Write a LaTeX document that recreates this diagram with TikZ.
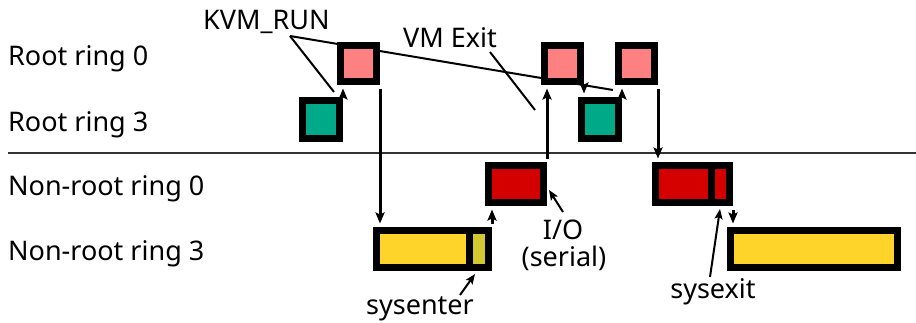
\documentclass[tikz,border=0pt]{standalone}
\usepackage{fontspec}
\setmainfont{Noto Sans}
\usetikzlibrary{arrows.meta}
\definecolor{pinkc}{HTML}{FF8080}
\definecolor{greenc}{HTML}{00AA88}
\definecolor{redc}{HTML}{D40000}
\definecolor{yellowc}{HTML}{FFD42A}
\definecolor{olivec}{HTML}{D4C832}
\definecolor{sepc}{HTML}{333333}
\begin{document}
\begin{tikzpicture}[x=1pt,y=-1pt,
  box/.style={draw=black,line width=7pt,inner sep=0pt,minimum height=37pt},
  lbl/.style={inner sep=0pt,font=\fontsize{27}{31}\selectfont},
  flow/.style={line width=3pt,-{Stealth[length=11pt,width=9pt,inset=2pt]},shorten >=3.5pt,shorten <=3.5pt},
  note/.style={line width=2pt},
  notearr/.style={line width=2pt,-{Stealth[length=10pt,width=8pt,inset=2pt]}}]
\useasboundingbox (0,0) rectangle (916,322);
% row labels
\node[lbl,anchor=base west] (r0) at (8,65) {Root ring 0};
\node[lbl,anchor=base west] (r3) at (8,131) {Root ring 3};
\node[lbl,anchor=base west] (n0) at (8,195) {Non-root ring 0};
\node[lbl,anchor=base west] (n3) at (8,260) {Non-root ring 3};
\coordinate (sepL) at (8,153);
\coordinate (sepR) at (916,153);
\draw[line width=1.8pt,sepc] (sepL) -- (sepR);
% annotation labels
\node[lbl,anchor=base west] (kvm) at (203,29) {KVM\_RUN};
\node[lbl,anchor=base west] (vmexit) at (403,47) {VM Exit};
\node[lbl,anchor=base] (io) at (563,239) {I/O};
\node[lbl,anchor=base] (serial) at (564,266) {(serial)};
\node[lbl,anchor=base] (sysenter) at (420,314) {sysenter};
\node[lbl,anchor=base] (sysexit) at (713,298) {sysexit};
% annotation lines (behind boxes)
\coordinate (kvmj) at (290,36);
\coordinate (kvmA) at (334,92);
\coordinate (kvmB) at (613,90);
\draw[note] (kvmj) -- (kvmA);
\draw[note] (kvmj) -- (kvmB);
\coordinate (vmj) at (490,52);
\coordinate (vmA) at (535,110);
\draw[note] (vmj) -- (vmA);
% boxes
\node[box,fill=pinkc,minimum width=36pt,minimum height=36pt] (p1) at (358.5,63.5) {};
\node[box,fill=pinkc,minimum width=36pt,minimum height=36pt] (p2) at (562.5,63.5) {};
\node[box,fill=pinkc,minimum width=36pt,minimum height=36pt] (p3) at (636.5,63.5) {};
\node[box,fill=greenc,minimum width=37pt,minimum height=38pt] (g1) at (321,119.5) {};
\node[box,fill=greenc,minimum width=37pt,minimum height=38pt] (g2) at (600,119.5) {};
\node[box,fill=redc,minimum width=55pt] (rd1) at (516,184) {};
\node[box,fill=redc,minimum width=56pt] (rd2a) at (683.5,184) {};
\node[box,fill=redc,minimum width=18pt] (rd2b) at (720.5,184) {};
\node[box,fill=yellowc,minimum width=93pt] (y1a) at (423,249) {};
\node[box,fill=olivec,minimum width=19pt] (y1b) at (479,249) {};
\node[box,fill=yellowc,minimum width=167pt] (y2) at (814,249) {};
% flow arrows
\draw[flow] (g1.north east) -- (g1.north east |- p1.south);
\draw[flow] (p1.south east) -- (p1.south east |- y1a.north);
\draw[flow] (y1b.north east) -- (y1b.north east |- rd1.south);
\draw[flow] (rd1.north east) -- (rd1.north east |- p2.south);
\draw[flow] (p2.south east) -- (p2.south east |- g2.north);
\draw[flow] (g2.north east) -- (g2.north east |- p3.south);
\draw[flow] (p3.south east) -- (p3.south east |- rd2a.north);
\draw[flow] (rd2b.south east) -- (rd2b.south east |- y2.north);
% annotation arrows
\coordinate (ioS) at (563,212);
\coordinate (ioT) at (549,190);
\draw[notearr] (ioS) -- (ioT);
\coordinate (seS) at (460,295);
\coordinate (seT) at (475,274);
\draw[notearr] (seS) -- (seT);
\coordinate (sxS) at (710,277);
\coordinate (sxT) at (720,209);
\draw[notearr] (sxS) -- (sxT);
\end{tikzpicture}
\end{document}
